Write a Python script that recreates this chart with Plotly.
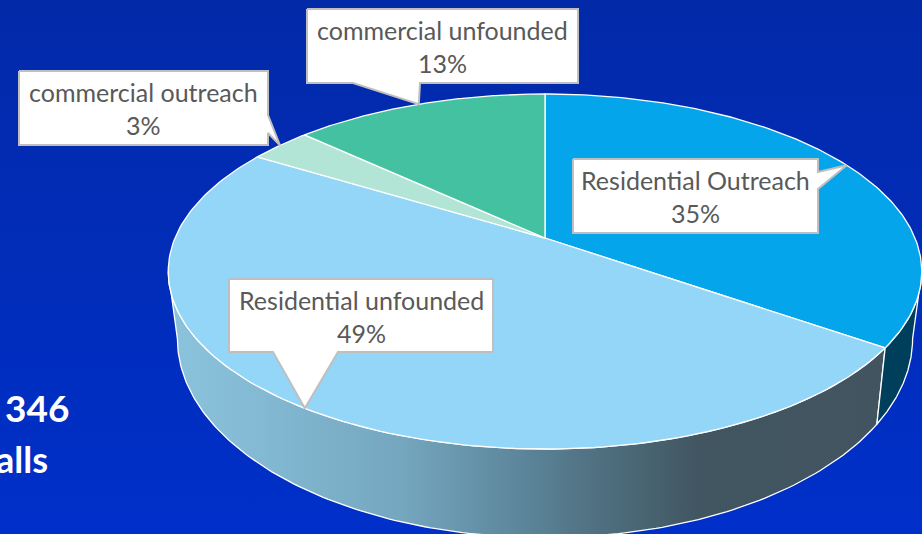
import numpy as np
import plotly.graph_objects as go

categories = ["Residential Outreach", "Residential unfounded", "commercial outreach", "commercial unfounded"]
shares = [34.7, 49.0, 3.2, 13.1]
slice_colors = ["#05A5EC", "#94D6F8", "#B2E5D6", "#43C1A0"]
side_text = ["346", "alls"]

W, H = 922, 534
CX, APEX_Y = 545.0, 238.0
A, B, K = 370.0, 171.2, 0.1888      # projected top disc
A2, B2, Y2 = 361.0, 192.0, 301.0    # projected lower rim


def rim(theta_deg, a=A, b=B, y0=APEX_Y):
    t = np.radians(theta_deg)
    w = 1 + K * np.cos(t)
    return CX + a * np.sin(t) / w, y0 - b * np.cos(t) / w


def arc(t0, t1, n=160):
    return np.linspace(t0, t1, n)


fig = go.Figure()

# background
fig.add_trace(go.Scatter(
    x=[0, W, W, 0, 0], y=[0, 0, H, H, 0], mode="lines", fill="toself",
    line=dict(width=0), hoverinfo="skip", showlegend=False,
    fillgradient=dict(type="vertical", colorscale=[[0, "#0229A8"], [1, "#0030CA"]], start=0, stop=H),
))

edges = np.cumsum([0] + shares) * 3.6
theta_split = edges[1]
# right silhouette angle and left silhouette angle (cos = -K)
sil = np.degrees(np.arccos(-K))

# side wall of the big slice
th = arc(theta_split, 360 - sil)
x1, y1 = rim(th)
x2, y2 = rim(th[::-1], A2, B2, Y2)
fig.add_trace(go.Scatter(
    x=np.r_[x1, x2, x1[0]], y=np.r_[y1, y2, y1[0]], mode="lines", fill="toself",
    line=dict(color="white", width=1.3), hoverinfo="skip", showlegend=False,
    fillgradient=dict(type="horizontal", colorscale=[
        [0, "#8BC2DC"], [0.12, "#84BAD4"], [0.33, "#74A6BE"], [0.47, "#5F8AA0"],
        [0.60, "#4F7080"], [0.74, "#415661"], [1, "#42545F"]]),
))
# side wall of the outreach slice
th = arc(sil, theta_split)
x1, y1 = rim(th)
x2, y2 = rim(th[::-1], A2, B2, Y2)
fig.add_trace(go.Scatter(
    x=np.r_[x1, x2, x1[0]], y=np.r_[y1, y2, y1[0]], mode="lines", fill="toself",
    fillcolor="#003F5C", line=dict(color="white", width=1.3), hoverinfo="skip", showlegend=False,
))

# top slices
for i, name in enumerate(categories):
    th = arc(edges[i], edges[i + 1])
    x, y = rim(th)
    fig.add_trace(go.Scatter(
        x=np.r_[CX, x, CX], y=np.r_[APEX_Y, y, APEX_Y], mode="lines", fill="toself",
        fillcolor=slice_colors[i], line=dict(color="white", width=1.3),
        name=name, hoverinfo="skip", showlegend=False,
    ))

# callouts: box (left, top, right, bottom), pointer base on a side
boxes = [(573, 159, 818, 233), (229, 279, 493, 352), (19, 71, 268, 145), (307, 9, 578, 83)]
bases = [("r", 172, 189), ("b", 273, 338), ("r", 115, 133), ("b", 353, 420)]
mids = (edges[:-1] + edges[1:]) / 2
for i, (l, t, r, b) in enumerate(boxes):
    tx, ty = rim(mids[i])
    side, p, q = bases[i]
    if side == "r":
        xs = [l, r, r, tx, r, r, l, l]
        ys = [t, t, p, ty, q, b, b, t]
    else:
        xs = [l, r, r, q, tx, p, l, l]
        ys = [t, t, b, b, ty, b, b, t]
    fig.add_trace(go.Scatter(
        x=xs, y=ys, mode="lines", fill="toself", fillcolor="white",
        line=dict(color="#BFBFBF", width=2), hoverinfo="skip", showlegend=False,
    ))
    cx = (l + r) / 2
    fig.add_annotation(x=cx, y=t + 21, text=categories[i], showarrow=False,
                       font=dict(family="Lato", size=25, color="#595959"))
    fig.add_annotation(x=cx, y=t + 54, text=f"{round(shares[i])}%", showarrow=False,
                       font=dict(family="Lato", size=25, color="#595959"))

fig.add_annotation(x=71, y=407, text=side_text[0], showarrow=False, xanchor="right",
                   font=dict(family="Lato", size=37, color="white", weight="bold"))
fig.add_annotation(x=50, y=459, text=side_text[1], showarrow=False, xanchor="right",
                   font=dict(family="Lato", size=36, color="white", weight="bold"))

fig.update_layout(
    width=W, height=H, margin=dict(l=0, r=0, t=0, b=0),
    paper_bgcolor="#002BB5", plot_bgcolor="#002BB5", showlegend=False,
    xaxis=dict(range=[0, W], visible=False, fixedrange=True),
    yaxis=dict(range=[H, 0], visible=False, fixedrange=True),
)
fig.write_html("out.html", config=dict(displayModeBar=False),
               post_script="document.body.style.margin='0';document.body.style.overflow='hidden';")
